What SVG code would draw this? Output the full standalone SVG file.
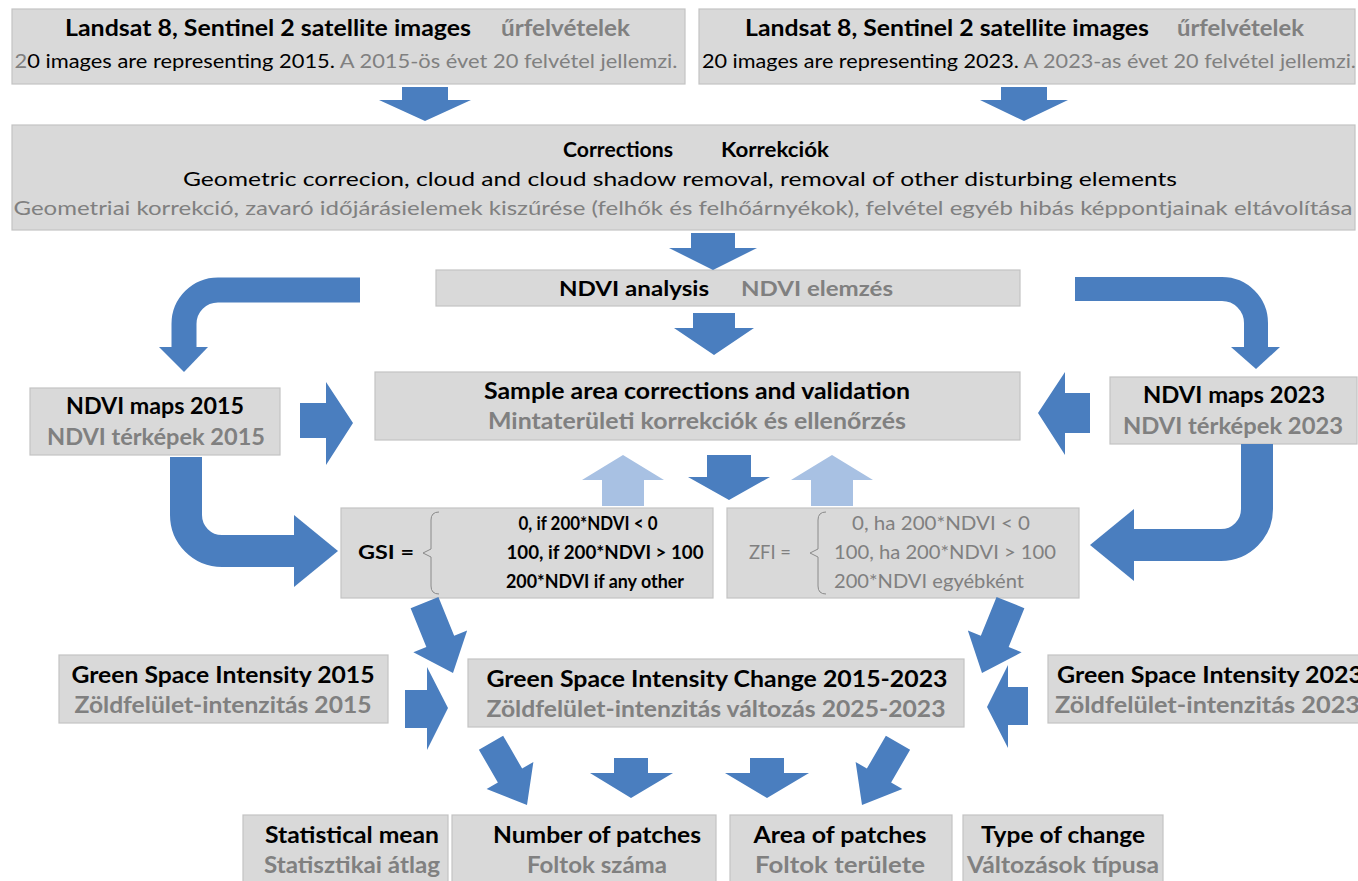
<svg xmlns="http://www.w3.org/2000/svg" width="1358" height="881" viewBox="0 0 1358 881">
<style>
.box{fill:#d9d9d9;stroke:#c3c3c3;stroke-width:1.2}
.b{font-family:Lato,"Open Sans","Liberation Sans",sans-serif;font-weight:bold;fill:#000}
.r{font-family:Lato,"Open Sans","Liberation Sans",sans-serif;font-weight:normal;fill:#000}
.g{fill:#808080}
.arw{fill:#4a7ebf}
.lt{fill:#a8c1e3}
.crv{fill:none;stroke:#4a7ebf}
.brace{fill:none;stroke:#8a8a8a;stroke-width:1}
</style>
<rect width="1358" height="881" fill="#fff"/>

<g id="sat2015">
<rect class="box" x="12" y="9" width="673" height="75"/>
<text class="b" font-size="22.5" x="65" y="36" textLength="406" lengthAdjust="spacingAndGlyphs">Landsat 8, Sentinel 2 satellite images</text>
<text class="b g" font-size="22.5" x="501" y="36" textLength="129" lengthAdjust="spacingAndGlyphs">űrfelvételek</text>
<text class="r" font-size="19.5" x="346" y="68" text-anchor="middle" textLength="663" lengthAdjust="spacingAndGlyphs"><tspan class="g">2</tspan>0 images are representing 2015.<tspan class="g"> A 2015-ös évet 20 felvétel jellemzi.</tspan></text>
</g>

<g id="sat2023">
<rect class="box" x="699" y="9" width="656" height="75"/>
<text class="b" font-size="22.5" x="745" y="36" textLength="404" lengthAdjust="spacingAndGlyphs">Landsat 8, Sentinel 2 satellite images</text>
<text class="b g" font-size="22.5" x="1177" y="36" textLength="127" lengthAdjust="spacingAndGlyphs">űrfelvételek</text>
<text class="r" font-size="19.5" x="1029" y="68" text-anchor="middle" textLength="654" lengthAdjust="spacingAndGlyphs">20 images are representing 2023.<tspan class="g"> A 2023-as évet 20 felvétel jellemzi.</tspan></text>
</g>

<g id="corrections">
<rect class="box" x="12" y="125" width="1343" height="105"/>
<text class="b" font-size="21.5" x="673" y="157" text-anchor="end" textLength="110" lengthAdjust="spacingAndGlyphs">Corrections</text>
<text class="b" font-size="21.5" x="721" y="157" textLength="108" lengthAdjust="spacingAndGlyphs">Korrekciók</text>
<text class="r" font-size="20" x="680" y="186" text-anchor="middle" textLength="994" lengthAdjust="spacingAndGlyphs">Geometric correcion, cloud and cloud shadow removal, removal of other disturbing elements</text>
<text class="r g" font-size="20" x="683" y="215" text-anchor="middle" textLength="1339" lengthAdjust="spacingAndGlyphs">Geometriai korrekció, zavaró időjárásielemek kiszűrése (felhők és felhőárnyékok), felvétel egyéb hibás képpontjainak eltávolítása</text>
</g>

<g id="ndvi-analysis">
<rect class="box" x="436" y="270" width="584" height="36"/>
<text class="b" font-size="21" x="559" y="296" textLength="150" lengthAdjust="spacingAndGlyphs">NDVI analysis</text>
<text class="b g" font-size="21" x="741" y="296" textLength="152" lengthAdjust="spacingAndGlyphs">NDVI elemzés</text>
</g>

<g id="sample">
<rect class="box" x="375" y="372" width="645" height="68"/>
<text class="b" font-size="23" x="697" y="399" text-anchor="middle" textLength="426" lengthAdjust="spacingAndGlyphs">Sample area corrections and validation</text>
<text class="b g" font-size="23" x="697" y="429" text-anchor="middle" textLength="418" lengthAdjust="spacingAndGlyphs">Mintaterületi korrekciók és ellenőrzés</text>
</g>

<g id="ndvi2015">
<rect class="box" x="30" y="388" width="250" height="67"/>
<text class="b" font-size="23.5" x="155" y="414" text-anchor="middle" textLength="178" lengthAdjust="spacingAndGlyphs">NDVI maps 2015</text>
<text class="b g" font-size="23.5" x="156" y="445" text-anchor="middle" textLength="218" lengthAdjust="spacingAndGlyphs">NDVI térképek 2015</text>
</g>

<g id="ndvi2023">
<rect class="box" x="1110" y="377" width="247" height="67"/>
<text class="b" font-size="23.5" x="1234" y="403" text-anchor="middle" textLength="182" lengthAdjust="spacingAndGlyphs">NDVI maps 2023</text>
<text class="b g" font-size="23.5" x="1233" y="434" text-anchor="middle" textLength="220" lengthAdjust="spacingAndGlyphs">NDVI térképek 2023</text>
</g>

<g id="gsi-formula">
<rect class="box" x="341" y="508" width="372" height="90"/>
<text class="b" font-size="19" x="358" y="559" textLength="56" lengthAdjust="spacingAndGlyphs">GSI =</text>
<path class="brace" d="M439,512 Q431,512 431,520 V549 L423,553 L431,557 V586 Q431,594 439,594"/>
<text class="b" font-size="19" x="588" y="530" text-anchor="middle" textLength="139" lengthAdjust="spacingAndGlyphs">0, if 200*NDVI &lt; 0</text>
<text class="b" font-size="19" x="605" y="559" text-anchor="middle" textLength="197" lengthAdjust="spacingAndGlyphs">100, if 200*NDVI &gt; 100</text>
<text class="b" font-size="19" x="595" y="588" text-anchor="middle" textLength="178" lengthAdjust="spacingAndGlyphs">200*NDVI if any other</text>
</g>

<g id="zfi-formula">
<rect class="box" x="727" y="508" width="352" height="90"/>
<text class="r g" font-size="19" x="749" y="559" textLength="42" lengthAdjust="spacingAndGlyphs">ZFI =</text>
<path class="brace" d="M826,512 Q818,512 818,520 V549 L810,553 L818,557 V586 Q818,594 826,594"/>
<text class="r g" font-size="19" x="941" y="530" text-anchor="middle" textLength="178" lengthAdjust="spacingAndGlyphs">0, ha 200*NDVI &lt; 0</text>
<text class="r g" font-size="19" x="945" y="559" text-anchor="middle" textLength="222" lengthAdjust="spacingAndGlyphs">100, ha 200*NDVI &gt; 100</text>
<text class="r g" font-size="19" x="929" y="588" text-anchor="middle" textLength="190" lengthAdjust="spacingAndGlyphs">200*NDVI egyébként</text>
</g>

<g id="gsi2015">
<rect class="box" x="59" y="655" width="329" height="68"/>
<text class="b" font-size="23.5" x="223" y="683" text-anchor="middle" textLength="303" lengthAdjust="spacingAndGlyphs">Green Space Intensity 2015</text>
<text class="b g" font-size="23.5" x="223" y="713" text-anchor="middle" textLength="297" lengthAdjust="spacingAndGlyphs">Zöldfelület-intenzitás 2015</text>
</g>

<g id="gsi-change">
<rect class="box" x="468" y="659" width="496" height="68"/>
<text class="b" font-size="23.5" x="717" y="687" text-anchor="middle" textLength="461" lengthAdjust="spacingAndGlyphs">Green Space Intensity  Change 2015-2023</text>
<text class="b g" font-size="23.5" x="716" y="717" text-anchor="middle" textLength="459" lengthAdjust="spacingAndGlyphs">Zöldfelület-intenzitás változás 2025-2023</text>
</g>

<g id="gsi2023">
<rect class="box" x="1048" y="655" width="312" height="68"/>
<text class="b" font-size="23.5" x="1057" y="683" textLength="306" lengthAdjust="spacingAndGlyphs">Green Space Intensity 2023</text>
<text class="b g" font-size="23.5" x="1055" y="713" textLength="305" lengthAdjust="spacingAndGlyphs">Zöldfelület-intenzitás 2023</text>
</g>

<g id="stat-mean">
<rect class="box" x="243" y="815" width="205" height="70"/>
<text class="b" font-size="23" x="352" y="843" text-anchor="middle" textLength="174" lengthAdjust="spacingAndGlyphs">Statistical mean</text>
<text class="b g" font-size="23" x="352" y="873" text-anchor="middle" textLength="176" lengthAdjust="spacingAndGlyphs">Statisztikai átlag</text>
</g>

<g id="num-patches">
<rect class="box" x="452" y="815" width="264" height="70"/>
<text class="b" font-size="23" x="597" y="843" text-anchor="middle" textLength="208" lengthAdjust="spacingAndGlyphs">Number of patches</text>
<text class="b g" font-size="23" x="597" y="873" text-anchor="middle" textLength="140" lengthAdjust="spacingAndGlyphs">Foltok száma</text>
</g>

<g id="area-patches">
<rect class="box" x="730" y="815" width="222" height="70"/>
<text class="b" font-size="23" x="840" y="843" text-anchor="middle" textLength="173" lengthAdjust="spacingAndGlyphs">Area of patches</text>
<text class="b g" font-size="23" x="840" y="873" text-anchor="middle" textLength="170" lengthAdjust="spacingAndGlyphs">Foltok területe</text>
</g>

<g id="type-change">
<rect class="box" x="963" y="815" width="200" height="70"/>
<text class="b" font-size="23" x="1063" y="843" text-anchor="middle" textLength="164" lengthAdjust="spacingAndGlyphs">Type of change</text>
<text class="b g" font-size="23" x="1063" y="873" text-anchor="middle" textLength="192" lengthAdjust="spacingAndGlyphs">Változások típusa</text>
</g>

<g id="connectors">
<polygon class="arw" points="402,87 448,87 448,100 471,100 425,121 379,100 402,100"/>
<polygon class="arw" points="1001,87 1047,87 1047,100 1068,100 1024,121 980,100 1001,100"/>
<polygon class="arw" points="691,233 735,233 735,248 757,248 713,270 669,248 691,248"/>
<polygon class="arw" points="693,313 735,313 735,328 754,328 714,355 674,328 693,328"/>
<path class="crv" stroke-width="25" d="M360,290 H218 A34,34 0 0 0 184,324 V348"/>
<polygon class="arw" points="159,347 208,347 184,372"/>
<path class="crv" stroke-width="24" d="M1075,289 H1222 A34,34 0 0 1 1256,323 V348"/>
<polygon class="arw" points="1231,347 1280,347 1256,369"/>
<polygon class="arw" points="300,403 326,403 326,382 353,423 326,465 326,438 300,438"/>
<polygon class="arw" points="1090,393 1065,393 1065,372 1038,413 1065,455 1065,433 1090,433"/>
<polygon class="lt" points="602,506 644,506 644,480 664,480 623,455 582,480 602,480"/>
<polygon class="lt" points="811,506 853,506 853,480 873,480 832,455 791,480 811,480"/>
<polygon class="arw" points="707,455 751,455 751,477 770,477 729,500 688,477 707,477"/>
<path class="crv" stroke-width="32" d="M186,457 V515 A36,36 0 0 0 222,551 H295"/>
<polygon class="arw" points="294,515 294,587 338,551"/>
<path class="crv" stroke-width="32" d="M1257,444 V509 A36,36 0 0 1 1221,545 H1133"/>
<polygon class="arw" points="1134,509 1134,581 1090,545"/>
<polygon class="arw" transform="translate(453,673) rotate(68)" points="0,0 -34,-29 -34,-15 -76,-15 -76,15 -34,15 -34,29"/>
<polygon class="arw" transform="translate(982,673) rotate(112)" points="0,0 -34,-29 -34,-15 -76,-15 -76,15 -34,15 -34,29"/>
<polygon class="arw" points="405,690 427,690 427,667 448,708 427,750 427,728 405,728"/>
<polygon class="arw" points="1028,687 1008,687 1008,665 987,707 1008,748 1008,725 1028,725"/>
<polygon class="arw" transform="translate(527,805) rotate(60)" points="0,0 -34,-27 -34,-14 -72,-14 -72,14 -34,14 -34,27"/>
<polygon class="arw" transform="translate(862,805) rotate(120)" points="0,0 -34,-27 -34,-14 -72,-14 -72,14 -34,14 -34,27"/>
<polygon class="arw" points="614,758 648,758 648,773 673,773 631,798 590,773 614,773"/>
<polygon class="arw" points="750,758 784,758 784,773 809,773 767,798 725,773 750,773"/>
</g>
</svg>
